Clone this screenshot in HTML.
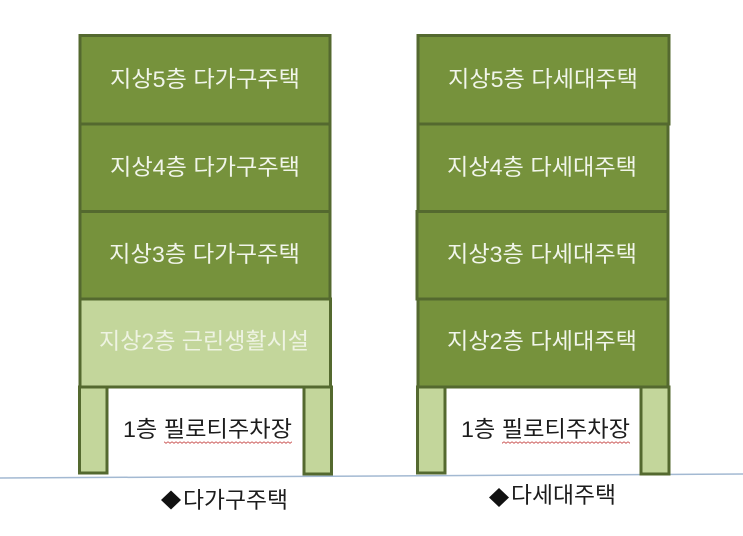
<!DOCTYPE html>
<html lang="ko"><head><meta charset="utf-8"><style>
html,body{margin:0;padding:0;background:#fff}
svg{display:block}
text{font-family:"Liberation Sans","Noto Sans CJK KR","NanumGothic",sans-serif;font-size:22.5px}
.w{fill:#f1f5ea}.l{fill:#eef3e2}.k{fill:#1c1c1c}
</style></head><body>
<svg width="743" height="536" viewBox="0 0 743 536" xmlns="http://www.w3.org/2000/svg">
<defs>
<pattern id="sq" x="0" y="0" width="4" height="3" patternUnits="userSpaceOnUse">
<path d="M0 0.700 L2 2.300 L4 0.700" fill="none" stroke="#c9504f" stroke-width="0.900"/>
</pattern>
</defs>
<line x1="0" y1="478" x2="743" y2="474" stroke="#a3b9d2" stroke-width="1.500"/>
<g stroke="#54692f" stroke-width="3">
<rect x="80" y="35.500" width="250" height="88.500" fill="#76923c"/>
<rect x="80" y="124" width="250" height="87.500" fill="#76923c"/>
<rect x="80" y="211.500" width="250" height="87.500" fill="#76923c"/>
<rect x="80" y="299" width="250.500" height="88" fill="#c3d69b"/>
<rect x="79.500" y="387" width="27.500" height="86" fill="#c3d69b"/>
<rect x="304" y="387" width="27.500" height="87" fill="#c3d69b"/>
<rect x="418" y="35.500" width="251" height="88.500" fill="#76923c"/>
<rect x="418" y="124" width="250" height="87.500" fill="#76923c"/>
<rect x="417" y="211.500" width="251" height="87.500" fill="#76923c"/>
<rect x="418" y="299" width="250" height="88" fill="#76923c"/>
<rect x="417.500" y="387" width="27.500" height="86" fill="#c3d69b"/>
<rect x="641" y="387" width="28" height="87" fill="#c3d69b"/>
</g>
<g class="w">
<text x="110" y="87" textLength="190" lengthAdjust="spacingAndGlyphs">지상5층 다가구주택</text>
<text x="110" y="175" textLength="190" lengthAdjust="spacingAndGlyphs">지상4층 다가구주택</text>
<text x="109" y="262" textLength="191" lengthAdjust="spacingAndGlyphs">지상3층 다가구주택</text>
<text x="448" y="87" textLength="190" lengthAdjust="spacingAndGlyphs">지상5층 다세대주택</text>
<text x="447" y="175" textLength="190" lengthAdjust="spacingAndGlyphs">지상4층 다세대주택</text>
<text x="447" y="262" textLength="190" lengthAdjust="spacingAndGlyphs">지상3층 다세대주택</text>
<text x="447" y="349" textLength="190" lengthAdjust="spacingAndGlyphs">지상2층 다세대주택</text>
</g>
<text class="l" x="99" y="349" textLength="210" lengthAdjust="spacingAndGlyphs">지상2층 근린생활시설</text>
<g class="k">
<text x="123" y="437" textLength="169" lengthAdjust="spacingAndGlyphs">1층 필로티주차장</text>
<text x="461" y="437" textLength="169" lengthAdjust="spacingAndGlyphs">1층 필로티주차장</text>
<text x="183" y="508" textLength="105" lengthAdjust="spacingAndGlyphs">다가구주택</text>
<text x="511" y="503" textLength="105" lengthAdjust="spacingAndGlyphs">다세대주택</text>
</g>
<polygon points="171,490.500 181,500 171,509.500 161,500" fill="#111"/>
<polygon points="499,488 509,497.500 499,507 489,497.500" fill="#111"/>
<rect x="164" y="441" width="128" height="3" fill="url(#sq)"/>
<rect x="502" y="441" width="128" height="3" fill="url(#sq)"/>
</svg>
</body></html>
